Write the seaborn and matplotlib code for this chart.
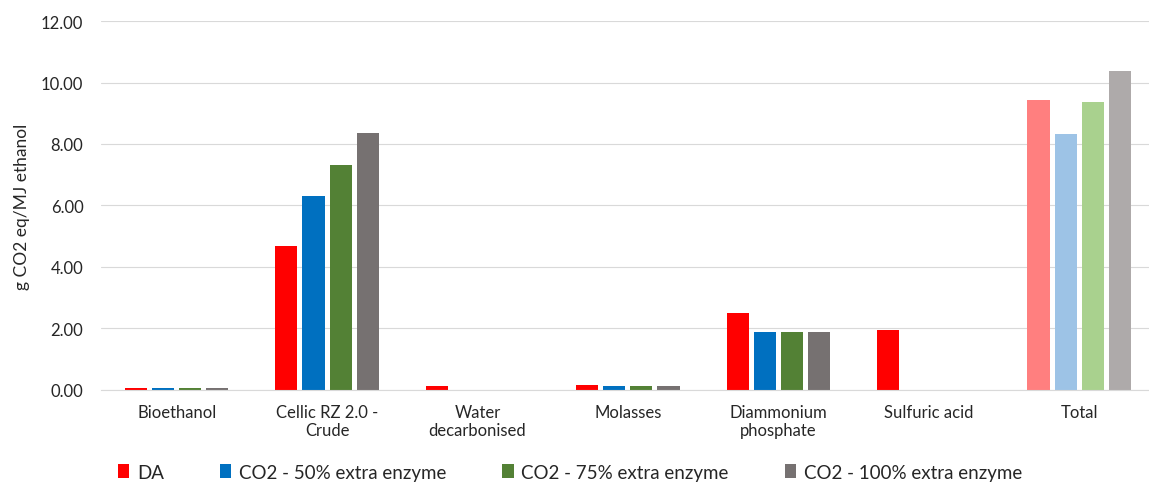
import numpy as np
import pandas as pd
import matplotlib
matplotlib.use("Agg")
import matplotlib.pyplot as plt
import seaborn as sns

# Data
categories = ["Bioethanol", "Cellic RZ 2.0 -\nCrude", "Water\ndecarbonised", "Molasses",
              "Diammonium\nphosphate", "Sulfuric acid", "Total"]
series = ["DA", "CO2 - 50% extra enzyme", "CO2 - 75% extra enzyme", "CO2 - 100% extra enzyme"]
da_vals = [0.06, 4.69, 0.12, 0.16, 2.49, 1.93, 9.44]
co2_50_vals = [0.04, 6.30, 0.0, 0.11, 1.87, 0.0, 8.31]
co2_75_vals = [0.04, 7.33, 0.0, 0.11, 1.87, 0.0, 9.36]
co2_100_vals = [0.04, 8.37, 0.0, 0.11, 1.87, 0.0, 10.38]

main_colors = ["#FF0000", "#0070C0", "#538135", "#767171"]
total_colors = ["#FF7F7F", "#9DC3E6", "#A9D18E", "#AEAAAA"]

df = pd.DataFrame({
    "category": categories * 4,
    "series": sum([[s] * len(categories) for s in series], []),
    "value": da_vals + co2_50_vals + co2_75_vals + co2_100_vals,
})

sns.set_style("white")
plt.rcParams["font.family"] = ["Lato", "DejaVu Sans"]

fig = plt.figure(figsize=(11.49, 4.85), dpi=100)
# plot area runs slightly past the right edge, as in the original
ax = fig.add_axes([0.0883, 0.1944, 0.9163, 0.760])

sns.barplot(data=df, x="category", y="value", hue="series", order=categories,
            hue_order=series, palette=main_colors, saturation=1, width=0.72, gap=0.185,
            edgecolor="none", ax=ax, legend=True)

# lighter colours for the Total group
total_idx = len(categories) - 1
for h, cont in enumerate(ax.containers):
    cont.patches[total_idx].set_facecolor(total_colors[h])

ax.set_ylim(0, 12)
ax.set_yticks(np.arange(0, 12.1, 2))
ax.set_yticklabels([f"{v:.2f}" for v in np.arange(0, 12.1, 2)])
ax.set_xlim(-0.5, len(categories) - 0.5)
ax.yaxis.grid(True, color="#D9D9D9", linewidth=0.8)
ax.set_axisbelow(True)
for s in ["top", "right", "left"]:
    ax.spines[s].set_visible(False)
ax.spines["bottom"].set_color("#D9D9D9")
ax.tick_params(axis="y", length=0, labelsize=12, colors="#262626", pad=13)
ax.tick_params(axis="x", length=0, labelsize=12, colors="#262626", pad=10)
ax.set_xlabel("")
ax.set_ylabel("g CO2 eq/MJ ethanol", fontsize=12.5, color="#262626", labelpad=8)

ax.legend(loc="upper center", bbox_to_anchor=(0.445, -0.155), ncol=4, frameon=False,
          fontsize=13.5, handlelength=0.6, handleheight=0.8, handletextpad=0.4,
          columnspacing=3.0, labelcolor="#262626")

fig.savefig("out.png", dpi=100)
